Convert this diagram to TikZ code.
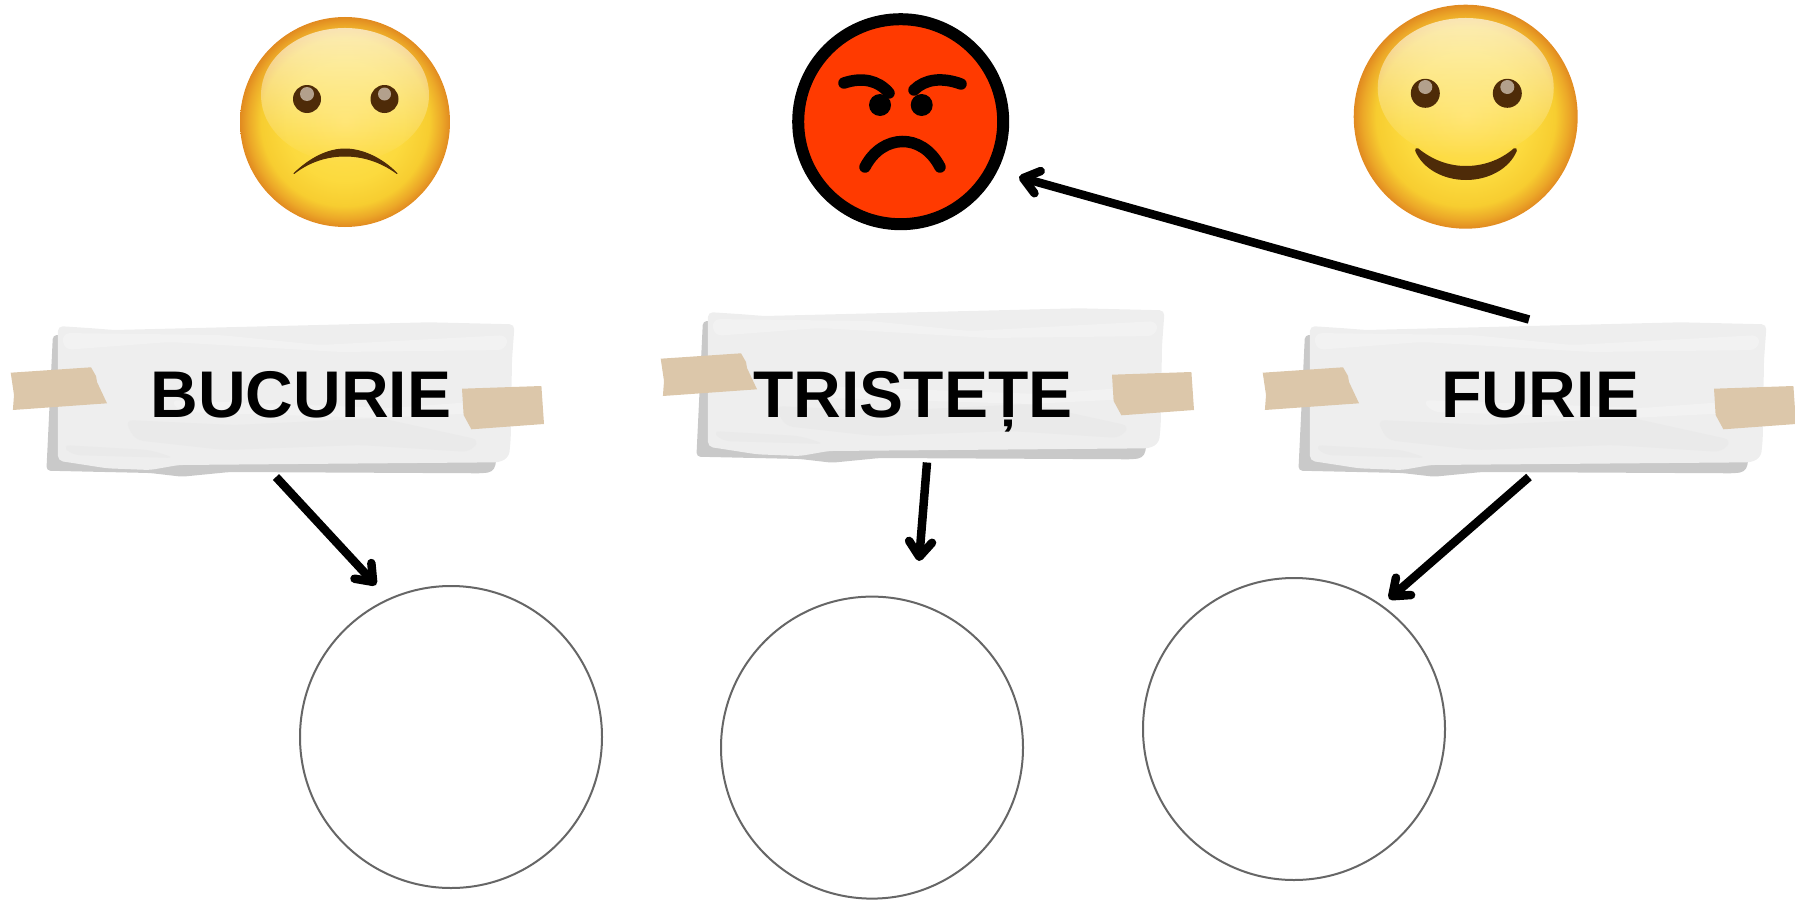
\documentclass[tikz,border=0pt]{standalone}
\usepackage{fontspec}
\setmainfont{Liberation Sans}
\usetikzlibrary{arrows.meta,fadings}
\definecolor{paperc}{HTML}{EEEEEE}
\definecolor{blotc}{HTML}{EAEAEA}
\definecolor{lightc}{HTML}{F2F2F2}
\definecolor{shadowc}{HTML}{C9C9C9}
\definecolor{tapec}{HTML}{DCC7AA}
\definecolor{browc}{HTML}{4E2B08}
\definecolor{glintc}{HTML}{B3A08C}
\definecolor{angryc}{HTML}{FF3A00}
\definecolor{ringc}{HTML}{666666}
\definecolor{fa}{HTML}{FFE056}
\definecolor{fb}{HTML}{FCDA3E}
\definecolor{fc}{HTML}{F7CD30}
\definecolor{fd}{HTML}{ECA828}
\definecolor{fe}{HTML}{E18A20}
\pgfdeclareradialshading{faceball}{\pgfpoint{0bp}{0bp}}{%
 color(0bp)=(fa);
 color(14bp)=(fb);
 color(20bp)=(fc);
 color(23bp)=(fd);
 color(25bp)=(fe);
 color(50bp)=(fe)}
\tikzfading[name=glowfade, top color=transparent!35, middle color=transparent!92, bottom color=transparent!100]
\tikzset{
 x=1pt,y=-1pt,
 facedisc/.style={shading=faceball,draw=none},
 pupil/.style={fill=browc,draw=none},
 glint/.style={fill=glintc,draw=none},
 glow/.style={fill=white,path fading=glowfade,draw=none},
 angrydisc/.style={fill=angryc,draw=black,line width=12pt},
 angryline/.style={draw=black,line width=11.5pt,line cap=round},
 answer/.style={circle,draw=ringc,line width=2pt,fill=white,minimum size=302pt,inner sep=0pt},
 label/.style={anchor=base,font=\fontsize{66}{78}\selectfont\bfseries,text=black,inner sep=0pt},
 link/.style={draw=black,line width=8.5pt,-{Straight Barb[length=15pt,width=23pt,round]}},
 notepaper/.pic={
  \fill[shadowc,rounded corners=4pt] (52.9,335) -- (46.4,470.7) -- (150,473) -- (182,476.7) -- (230,472) -- (482,473.3) -- (492,472) -- (496,465) -- (496,450) -- (60,335) -- cycle;
  \fill[paperc,rounded corners=5pt] (57.9,326) -- (92.9,328.3) -- (114,330) -- (428.6,322.3) -- (514.6,324.3) -- (512,360) -- (510.7,440) -- (509,456.7) -- (500,462.3) -- (178.6,465) -- (150,470) -- (107,468.3) -- (57.9,460.7) -- cycle;
  \fill[lightc,rounded corners=8pt] (62,333) -- (220,335) -- (320,345) -- (508,335) -- (506,350) -- (340,352) -- (170,342) -- (64,350) -- cycle;
  \fill[blotc,rounded corners=8pt] (125,420) -- (235,425) -- (380,418) -- (480,440) -- (470,452) -- (360,445) -- (225,450) -- (135,440) -- cycle;
  \fill[blotc,rounded corners=8pt] (62,445) -- (150,450) -- (175,458) -- (72,455) -- cycle;
  \fill[lightc,rounded corners=8pt] (170,400) -- (390,408) -- (500,400) -- (500,412) -- (380,418) -- (180,412) -- cycle;
  \fill[tapec] (10.7,372.7) -- (91,367.3) -- (96,376) -- (97,382) -- (107,403.3) -- (12.9,410) -- (14,395) -- cycle;
  \fill[tapec] (462,388.7) -- (541.4,386) -- (544,424) -- (471.4,429.3) -- (463.6,415) -- cycle;
 }
}
\begin{document}
\begin{tikzpicture}
\useasboundingbox (0,0) rectangle (1795,899);
% sad face
\shade[facedisc] (345,122) circle[radius=105];
\path[glow] (345,95) ellipse[x radius=84,y radius=67];
\fill[pupil] (307,99) circle[radius=14];
\fill[pupil] (384.5,99) circle[radius=14];
\fill[glint] (307,94) circle[radius=7];
\fill[glint] (384.5,94) circle[radius=6.5];
\filldraw[browc,line width=1pt,line join=round] (294,173.5) .. controls (310,158) and (328,149) .. (345,149) .. controls (362,149) and (382,158) .. (397,173.5) .. controls (380,161) and (362,156) .. (345,156) .. controls (328,156) and (310,161) .. (294,173.5) -- cycle;
% angry face
\draw[angrydisc] (900.7,121.7) circle[radius=102.5];
\draw[angryline] (844,83) .. controls (862,77) and (878,80) .. (889,93);
\draw[angryline] (961,84) .. controls (942,77) and (925,79) .. (914,90);
\fill[black] (880,105) circle[radius=11];
\fill[black] (921.7,105) circle[radius=11];
\draw[angryline] (865,167) .. controls (882,134) and (922,132) .. (940,167);
% happy face
\shade[facedisc] (1465.7,116.7) circle[radius=112];
\path[glow] (1465.7,88) ellipse[x radius=88,y radius=70];
\fill[pupil] (1425.3,93.3) circle[radius=14.5];
\fill[pupil] (1507.3,93.3) circle[radius=14.5];
\fill[glint] (1425.3,87) circle[radius=7];
\fill[glint] (1507.3,87) circle[radius=7];
\filldraw[browc,line width=4pt,line join=round] (1417,150) .. controls (1433,163) and (1450,168) .. (1466,168) .. controls (1482,168) and (1500,163) .. (1515,150) .. controls (1508,167) and (1488,178) .. (1466,178) .. controls (1444,178) and (1424,167) .. (1417,150) -- cycle;
% notes
\pic at (0,0) {notepaper};
\pic at (650,-14) {notepaper};
\pic at (1252,0) {notepaper};
\node[label] (joy) at (301,417.5) {BUCURIE};
\node[label] (sad) at (913,417.5) {TRISTEȚE};
\node[label] (rage) at (1540,417.5) {FURIE};
% circles
\node[answer] (c1) at (451,737) {};
\node[answer] (c2) at (872,747.6) {};
\node[answer] (c3) at (1294,729) {};
% connectors
\coordinate (joyout) at (276,477);
\coordinate (joyin) at (376,585);
\coordinate (sadout) at (927,462.5);
\coordinate (sadin) at (919,561);
\coordinate (rageout) at (1529,477);
\coordinate (ragein) at (1389,599);
\coordinate (rageup) at (1529,319.5);
\coordinate (angryin) at (1019,177);
\draw[link] (joyout) -- (joyin);
\draw[link] (sadout) -- (sadin);
\draw[link] (rageout) -- (ragein);
\draw[link] (rageup) -- (angryin);
\end{tikzpicture}
\end{document}
